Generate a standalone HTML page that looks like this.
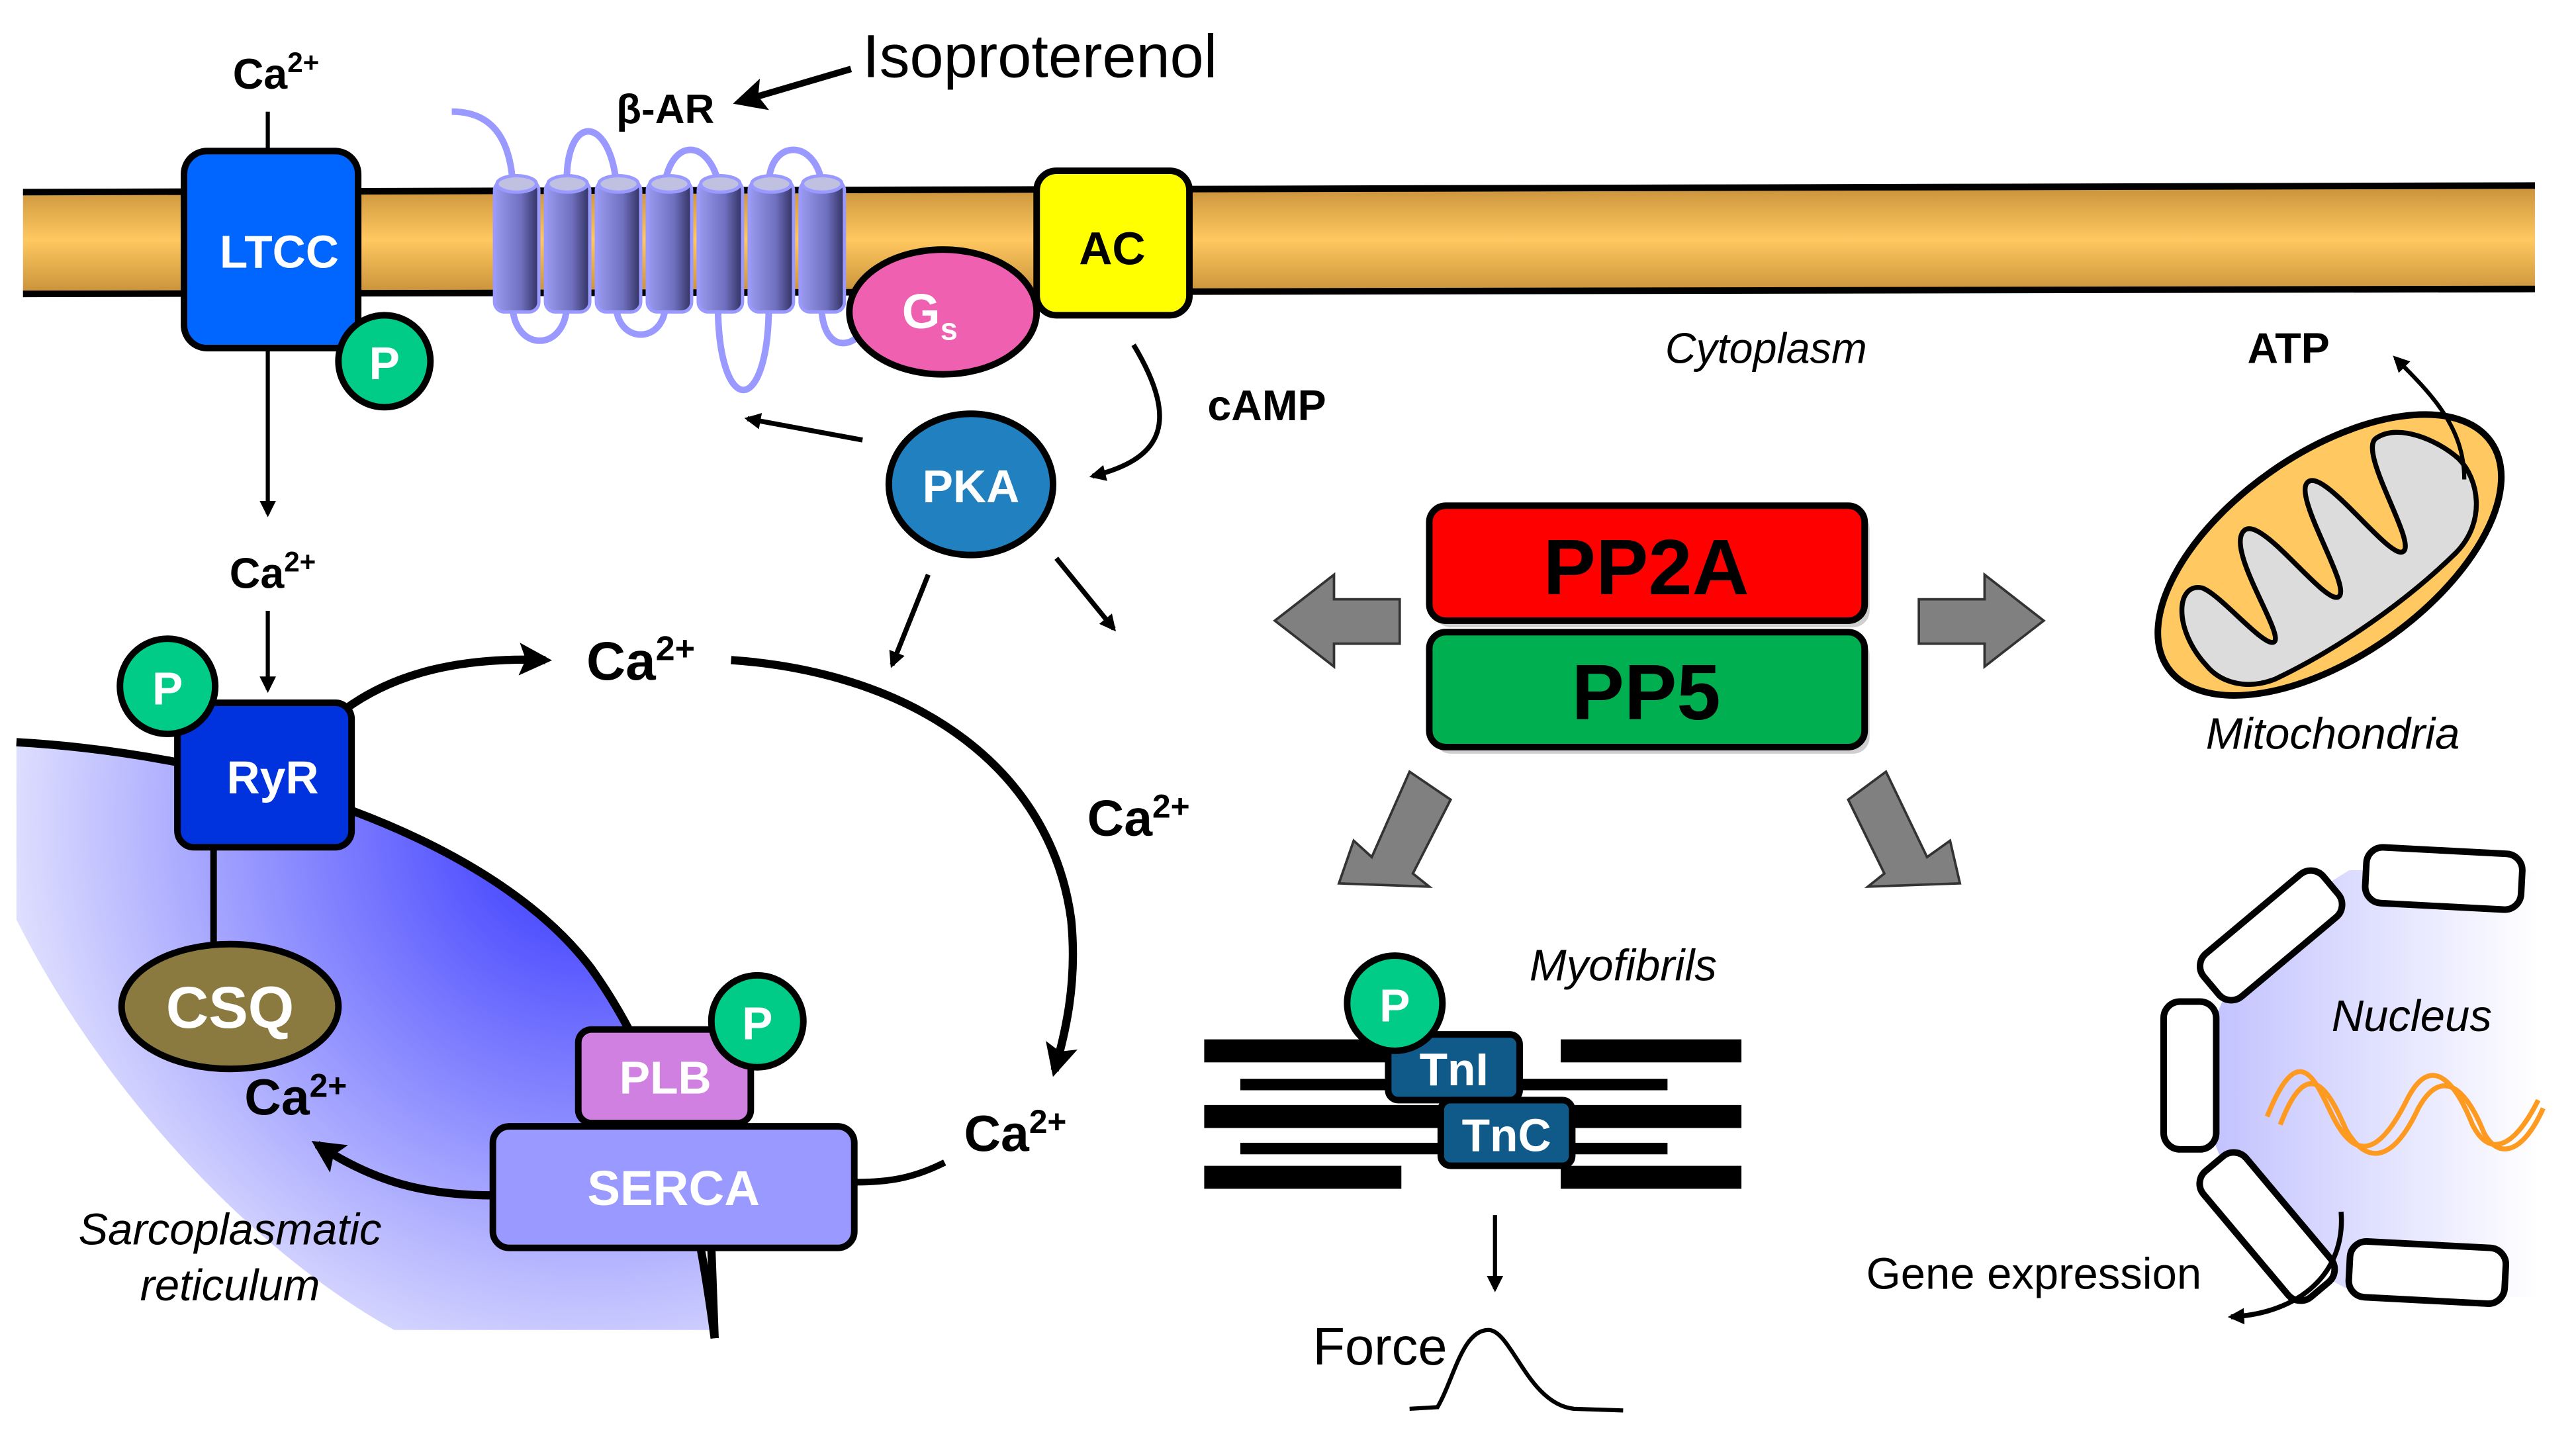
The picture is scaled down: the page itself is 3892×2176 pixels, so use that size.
<!DOCTYPE html>
<html><head><meta charset="utf-8"><style>html,body{margin:0;padding:0;background:#fff}svg{display:block}</style></head>
<body>
<svg width="3892" height="2176" viewBox="0 0 1568 877" preserveAspectRatio="none" xmlns="http://www.w3.org/2000/svg" font-family="Liberation Sans, Arial, sans-serif">
<defs>
<linearGradient id="mem" x1="0" y1="0" x2="0" y2="1"><stop offset="0" stop-color="#c8913a"/><stop offset="0.5" stop-color="#ffc860"/><stop offset="1" stop-color="#c8913a"/></linearGradient>
<linearGradient id="cyl" x1="0" y1="0" x2="1" y2="0"><stop offset="0" stop-color="#9a9af0"/><stop offset="0.6" stop-color="#7070c0"/><stop offset="1" stop-color="#303060"/></linearGradient>
<radialGradient id="sr" cx="360" cy="500" r="420" gradientUnits="userSpaceOnUse"><stop offset="0" stop-color="#3030ff"/><stop offset="1" stop-color="#ffffff"/></radialGradient>
<linearGradient id="nuc" x1="0" y1="0" x2="1" y2="0"><stop offset="0" stop-color="#c0c0ff"/><stop offset="1" stop-color="#ffffff"/></linearGradient>
<marker id="ar" markerWidth="10" markerHeight="10" refX="8" refY="5" orient="auto" markerUnits="userSpaceOnUse"><path d="M0,0 L10,5 L0,10 z" fill="#000"/></marker>
<marker id="arb" markerWidth="20" markerHeight="20" refX="16" refY="10" orient="auto" markerUnits="userSpaceOnUse"><path d="M0,0 L20,10 L0,20 L4,10 z" fill="#000"/></marker>
</defs>
<path d="M14,117 L1543,113 L1543,176 L14,179 z" fill="url(#mem)"/>
<path d="M14,117 L1543,113 M14,179 L1543,176" stroke="#000" stroke-width="4" fill="none"/>
<path d="M10,452 C150,460 300,510 360,590 C410,660 425,740 432,810 L240,810 C150,760 60,660 10,560 z" fill="url(#sr)"/>
<path d="M10,452 C150,460 300,510 360,590 C410,660 425,740 435,815" stroke="#000" stroke-width="5" fill="none"/>
<path d="M1430,530 C1380,560 1345,600 1340,660 C1345,720 1390,770 1440,790 L1545,790 L1545,530 z" fill="url(#nuc)"/>
<g fill="#fff" stroke="#000" stroke-width="4">
<rect x="1440" y="518" width="95" height="34" rx="10" transform="rotate(3 1487 535)"/>
<rect x="1335" y="553" width="95" height="34" rx="10" transform="rotate(-40 1382 570)"/>
<rect x="1317" y="610" width="32" height="90" rx="10"/>
<rect x="1330" y="730" width="100" height="34" rx="10" transform="rotate(50 1380 747)"/>
<rect x="1430" y="758" width="95" height="34" rx="10" transform="rotate(3 1477 775)"/>
</g>
<g fill="none" stroke="#ff9a20" stroke-width="3">
<path d="M1380,680 C1400,630 1410,660 1420,680 C1435,710 1450,700 1465,670 C1480,640 1495,660 1505,685 C1515,705 1530,700 1545,670"/>
<path d="M1388,685 C1405,640 1418,665 1428,688 C1442,712 1458,705 1472,675 C1487,648 1502,665 1512,690 C1522,708 1537,700 1548,675"/>
</g>
<text x="1468" y="628" font-size="27" font-style="italic" text-anchor="middle">Nucleus</text>
<path d="M1425,738 C1428,775 1400,800 1358,802" stroke="#000" stroke-width="3" fill="none" marker-end="url(#ar)"/>
<text x="1238" y="785" font-size="27" text-anchor="middle">Gene expression</text>
<text x="168" y="54" font-size="26" font-weight="bold" text-anchor="middle">Ca<tspan font-size="17" dy="-10">2+</tspan></text>
<line x1="163" y1="68" x2="163" y2="92" stroke="#000" stroke-width="2.5"/>
<rect x="112" y="92" width="106" height="120" rx="14" fill="#0066ff" stroke="#000" stroke-width="4"/>
<text x="170" y="163" font-size="28" font-weight="bold" fill="#fff" text-anchor="middle">LTCC</text>
<circle cx="234" cy="220" r="28" fill="#00cc88" stroke="#000" stroke-width="4"/>
<text x="234" y="231" font-size="28" font-weight="bold" fill="#fff" text-anchor="middle">P</text>
<line x1="163" y1="212" x2="163" y2="313" stroke="#000" stroke-width="2.5" marker-end="url(#ar)"/>
<text x="166" y="358" font-size="26" font-weight="bold" text-anchor="middle">Ca<tspan font-size="17" dy="-10">2+</tspan></text>
<line x1="163" y1="372" x2="163" y2="420" stroke="#000" stroke-width="2.5" marker-end="url(#ar)"/>
<g fill="none" stroke="#9999ff" stroke-width="4">
<path d="M275,68 C300,68 310,85 312,110"/>
<path d="M345,110 C345,70 370,70 375,110"/>
<path d="M405,110 C410,85 430,85 437,110"/>
<path d="M468,110 C470,85 495,85 500,110"/>
<path d="M312,185 C312,215 345,215 345,185"/>
<path d="M375,185 C375,210 405,210 405,185"/>
<path d="M437,185 C437,255 468,255 468,185"/>
<path d="M500,185 C500,215 520,215 530,195"/>
</g>
<g fill="url(#cyl)" stroke="#9999ff" stroke-width="2">
<rect x="301" y="110" width="27" height="80" rx="6"/>
<rect x="332" y="110" width="27" height="80" rx="6"/>
<rect x="363" y="110" width="27" height="80" rx="6"/>
<rect x="394" y="110" width="27" height="80" rx="6"/>
<rect x="425" y="110" width="27" height="80" rx="6"/>
<rect x="456" y="110" width="27" height="80" rx="6"/>
<rect x="487" y="110" width="27" height="80" rx="6"/>
</g>
<g fill="#c0c0e0" stroke="#9999ff" stroke-width="2">
<ellipse cx="314.5" cy="112" rx="12" ry="5"/><ellipse cx="345.5" cy="112" rx="12" ry="5"/><ellipse cx="376.5" cy="112" rx="12" ry="5"/><ellipse cx="407.5" cy="112" rx="12" ry="5"/><ellipse cx="438.5" cy="112" rx="12" ry="5"/><ellipse cx="469.5" cy="112" rx="12" ry="5"/><ellipse cx="500.5" cy="112" rx="12" ry="5"/>
</g>
<text x="405" y="75" font-size="25" font-weight="bold" text-anchor="middle">β-AR</text>
<text x="525" y="47" font-size="37">Isoproterenol</text>
<line x1="518" y1="42" x2="450" y2="62" stroke="#000" stroke-width="4" marker-end="url(#arb)"/>
<rect x="631" y="104" width="93" height="88" rx="12" fill="#ffff00" stroke="#000" stroke-width="4"/>
<text x="677" y="161" font-size="28" font-weight="bold" text-anchor="middle">AC</text>
<ellipse cx="574" cy="190" rx="57" ry="38" fill="#f060b0" stroke="#000" stroke-width="4"/>
<text x="566" y="200" font-size="30" font-weight="bold" fill="#fff" text-anchor="middle">G<tspan font-size="19" dy="7">s</tspan></text>
<path d="M690,210 C720,260 705,280 665,290" stroke="#000" stroke-width="3" fill="none" marker-end="url(#ar)"/>
<text x="735" y="256" font-size="26" font-weight="bold">cAMP</text>
<ellipse cx="591" cy="295" rx="50" ry="43" fill="#2080c0" stroke="#000" stroke-width="4"/>
<text x="591" y="306" font-size="28" font-weight="bold" fill="#fff" text-anchor="middle">PKA</text>
<line x1="525" y1="268" x2="455" y2="255" stroke="#000" stroke-width="3" marker-end="url(#ar)"/>
<line x1="565" y1="350" x2="543" y2="405" stroke="#000" stroke-width="3" marker-end="url(#ar)"/>
<line x1="643" y1="340" x2="678" y2="383" stroke="#000" stroke-width="3" marker-end="url(#ar)"/>
<text x="1075" y="221" font-size="26" font-style="italic" text-anchor="middle">Cytoplasm</text>
<text x="1393" y="221" font-size="26" font-weight="bold" text-anchor="middle">ATP</text>
<g transform="rotate(-35 1418 338)">
<ellipse cx="1418" cy="338" rx="120" ry="62" fill="#ffc860" stroke="#000" stroke-width="4"/>
<path d="M1318,350 C1314,320 1332,298 1343,310 C1350,320 1353,362 1360,362 C1368,362 1368,298 1384,296 C1398,294 1398,362 1408,362 C1418,362 1420,294 1433,294 C1446,294 1446,362 1456,362 C1466,362 1468,296 1482,296 C1498,296 1512,318 1516,335 C1519,352 1508,376 1482,381 C1440,388 1390,388 1348,381 C1330,377 1319,364 1318,350 z" fill="#dcdcdc" stroke="#000" stroke-width="3"/>
</g>
<path d="M1500,292 C1500,260 1480,240 1458,218" stroke="#000" stroke-width="2.5" fill="none" marker-end="url(#ar)"/>
<text x="1420" y="456" font-size="27" font-style="italic" text-anchor="middle">Mitochondria</text>
<rect x="873" y="312" width="265" height="70" rx="10" fill="#888" opacity="0.4"/>
<rect x="870" y="308" width="265" height="70" rx="10" fill="#ff0000" stroke="#000" stroke-width="4"/>
<text x="1002" y="362" font-size="48" font-weight="bold" text-anchor="middle">PP2A</text>
<rect x="873" y="389" width="265" height="70" rx="10" fill="#888" opacity="0.4"/>
<rect x="870" y="385" width="265" height="70" rx="10" fill="#00b050" stroke="#000" stroke-width="4"/>
<text x="1002" y="438" font-size="48" font-weight="bold" text-anchor="middle">PP5</text>
<g fill="#808080" stroke="#333" stroke-width="1.5">
<path d="M852,365 L812,365 L812,350 L776,378 L812,406 L812,392 L852,392 z"/>
<path d="M1168,365 L1208,365 L1208,350 L1244,378 L1208,406 L1208,392 L1168,392 z"/>
<path d="M858,470 L883,487 L860,532 L870,540 L815,538 L824,512 L835,522 z"/>
<path d="M1148,470 L1125,487 L1147,532 L1137,540 L1193,538 L1187,512 L1173,522 z"/>
</g>
<path d="M210,432 C240,410 280,400 332,402" stroke="#000" stroke-width="5" fill="none" marker-end="url(#arb)"/>
<text x="390" y="414" font-size="33" font-weight="bold" text-anchor="middle">Ca<tspan font-size="21" dy="-12">2+</tspan></text>
<path d="M445,402 C560,410 640,470 652,560 C656,600 648,630 642,652" stroke="#000" stroke-width="5" fill="none" marker-end="url(#arb)"/>
<text x="693" y="509" font-size="31" font-weight="bold" text-anchor="middle">Ca<tspan font-size="20" dy="-11">2+</tspan></text>
<text x="618" y="701" font-size="31" font-weight="bold" text-anchor="middle">Ca<tspan font-size="20" dy="-11">2+</tspan></text>
<path d="M575,708 C555,718 540,720 520,720" stroke="#000" stroke-width="4" fill="none"/>
<path d="M300,728 C255,728 225,718 193,697" stroke="#000" stroke-width="5" fill="none" marker-end="url(#arb)"/>
<line x1="130" y1="516" x2="130" y2="580" stroke="#000" stroke-width="4"/>
<rect x="108" y="428" width="106" height="88" rx="10" fill="#0033dd" stroke="#000" stroke-width="4"/>
<text x="166" y="483" font-size="28" font-weight="bold" fill="#fff" text-anchor="middle">RyR</text>
<circle cx="102" cy="418" r="29" fill="#00cc88" stroke="#000" stroke-width="4"/>
<text x="102" y="429" font-size="28" font-weight="bold" fill="#fff" text-anchor="middle">P</text>
<ellipse cx="140" cy="613" rx="66" ry="38" fill="#8b7a40" stroke="#000" stroke-width="4"/>
<text x="140" y="626" font-size="36" font-weight="bold" fill="#fff" text-anchor="middle">CSQ</text>
<text x="180" y="679" font-size="31" font-weight="bold" text-anchor="middle">Ca<tspan font-size="20" dy="-11">2+</tspan></text>
<line x1="433" y1="760" x2="435" y2="815" stroke="#000" stroke-width="5"/>
<rect x="352" y="627" width="105" height="57" rx="8" fill="#d080e0" stroke="#000" stroke-width="4"/>
<text x="405" y="666" font-size="28" font-weight="bold" fill="#fff" text-anchor="middle">PLB</text>
<circle cx="461" cy="622" r="28" fill="#00cc88" stroke="#000" stroke-width="4"/>
<text x="461" y="633" font-size="28" font-weight="bold" fill="#fff" text-anchor="middle">P</text>
<rect x="300" y="686" width="220" height="74" rx="10" fill="#9999ff" stroke="#000" stroke-width="4"/>
<text x="410" y="734" font-size="30" font-weight="bold" fill="#fff" text-anchor="middle">SERCA</text>
<text x="140" y="758" font-size="27" font-style="italic" text-anchor="middle">Sarcoplasmatic</text>
<text x="140" y="792" font-size="27" font-style="italic" text-anchor="middle">reticulum</text>
<g fill="#000">
<rect x="733" y="633" width="120" height="14"/><rect x="950" y="633" width="110" height="14"/>
<rect x="755" y="657" width="260" height="7"/>
<rect x="733" y="673" width="327" height="14"/>
<rect x="755" y="696" width="260" height="7"/>
<rect x="733" y="710" width="120" height="14"/><rect x="950" y="710" width="110" height="14"/>
</g>
<rect x="845" y="630" width="80" height="40" rx="6" fill="#105a8a" stroke="#000" stroke-width="4"/>
<text x="885" y="661" font-size="28" font-weight="bold" fill="#fff" text-anchor="middle">TnI</text>
<rect x="877" y="670" width="80" height="40" rx="6" fill="#105a8a" stroke="#000" stroke-width="4"/>
<text x="917" y="701" font-size="28" font-weight="bold" fill="#fff" text-anchor="middle">TnC</text>
<circle cx="849" cy="611" r="29" fill="#00cc88" stroke="#000" stroke-width="4"/>
<text x="849" y="622" font-size="28" font-weight="bold" fill="#fff" text-anchor="middle">P</text>
<text x="988" y="597" font-size="27" font-style="italic" text-anchor="middle">Myofibrils</text>
<line x1="910" y1="740" x2="910" y2="785" stroke="#000" stroke-width="2.5" marker-end="url(#ar)"/>
<text x="840" y="831" font-size="32" text-anchor="middle">Force</text>
<path d="M858,858 L875,857 C885,840 890,810 906,810 C920,810 930,855 958,858 L988,859" stroke="#000" stroke-width="2.5" fill="none"/>
</svg>
</body></html>
